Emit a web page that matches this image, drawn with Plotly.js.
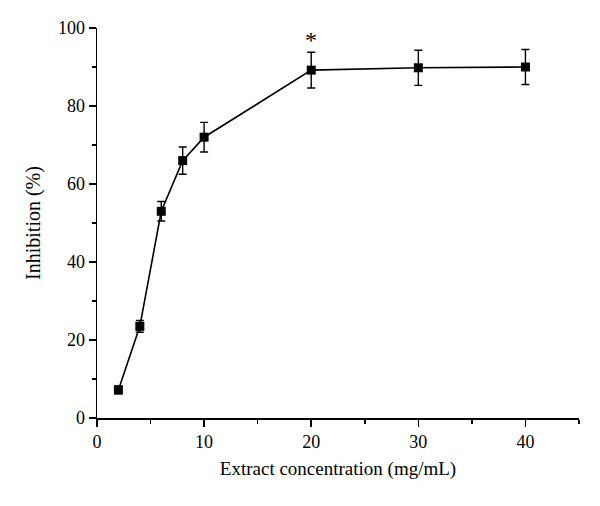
<!DOCTYPE html>
<html>
<head>
<meta charset="utf-8">
<script src="https://cdn.plot.ly/plotly-3.0.1.min.js"></script>
<style>html,body{margin:0;padding:0;background:#fff;}#chart{width:600px;height:506px;}</style>
</head>
<body>
<div id="chart"></div>
<script>
const concentration = [2, 4, 6, 8, 10, 20, 30, 40];
const inhibition = [7.2, 23.5, 53.0, 66.0, 72.0, 89.2, 89.8, 90.0];
const errorSD = [1.0, 1.5, 2.5, 3.5, 3.8, 4.6, 4.5, 4.5];
const xTicks = [0, 10, 20, 30, 40];
const yTicks = [0, 20, 40, 60, 80, 100];
const starLabel = {x: 20, y: 96.8, text: '*'};

const font = 'Liberation Serif, Times New Roman, serif';

const trace = {
  x: concentration,
  y: inhibition,
  type: 'scatter',
  mode: 'lines+markers',
  line: {color: '#000', width: 1.6},
  marker: {symbol: 'square', size: 9, color: '#000'},
  error_y: {type: 'data', array: errorSD, visible: true, color: '#000', thickness: 1.4, width: 4},
  showlegend: false
};

const layout = {
  width: 600, height: 506,
  margin: {l: 97, r: 21, t: 28, b: 88},
  paper_bgcolor: '#fff', plot_bgcolor: '#fff',
  font: {family: font, color: '#000', size: 18},
  xaxis: {
    range: [0, 45], tickvals: xTicks, ticktext: xTicks.map(String),
    showline: true, linecolor: '#000', linewidth: 1.5,
    ticks: 'outside', ticklen: 7, tickwidth: 1.5, tickcolor: '#000',
    minor: {dtick: 5, tick0: 0, ticks: 'outside', ticklen: 4, tickwidth: 1.5, tickcolor: '#000'},
    showgrid: false, zeroline: false,
    tickfont: {family: font, size: 18},
    title: {text: 'Extract concentration (mg/mL)', font: {family: font, size: 19}, standoff: 10}
  },
  yaxis: {
    range: [0, 100], tickvals: yTicks, ticktext: yTicks.map(String),
    showline: true, linecolor: '#000', linewidth: 1.5,
    ticks: 'outside', ticklen: 7, tickwidth: 1.5, tickcolor: '#000',
    minor: {dtick: 10, tick0: 0, ticks: 'outside', ticklen: 4, tickwidth: 1.5, tickcolor: '#000'},
    showgrid: false, zeroline: false,
    tickfont: {family: font, size: 18},
    title: {text: 'Inhibition (%)', font: {family: font, size: 20}, standoff: 12}
  },
  annotations: [{
    x: starLabel.x, y: starLabel.y, xref: 'x', yref: 'y', text: starLabel.text,
    showarrow: false, font: {family: font, size: 24, color: '#000'}, yanchor: 'middle'
  }]
};

Plotly.newPlot('chart', [trace], layout, {displayModeBar: false, staticPlot: true});
</script>
</body>
</html>
